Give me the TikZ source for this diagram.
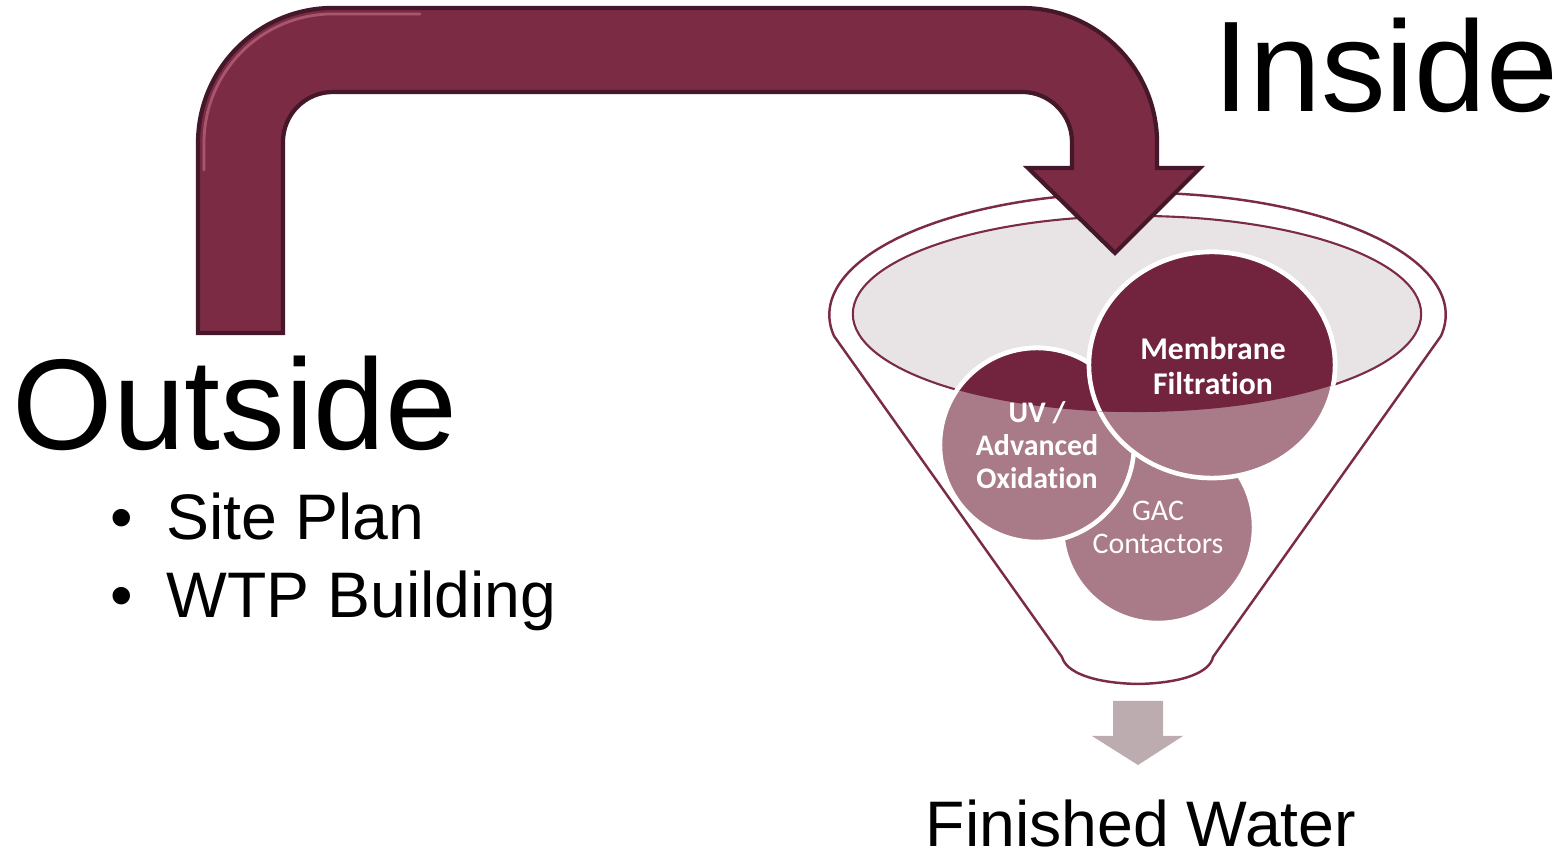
\documentclass[tikz,border=0pt]{standalone}
\usepackage{fontspec}
\setmainfont{Liberation Sans}
\newfontfamily\calibri[Ligatures=NoCommon]{Carlito}
\usepackage{tikz}
\usetikzlibrary{positioning}

\definecolor{arrowred}{HTML}{7B2C44}
\definecolor{arrowedge}{HTML}{45172A}
\definecolor{arrowshine}{HTML}{A8566E}
\definecolor{discdark}{HTML}{72243E}
\definecolor{discpink}{HTML}{A97A88}
\definecolor{cupgrey}{HTML}{E8E4E6}
\definecolor{outgrey}{HTML}{BCACAF}

\begin{document}
\begin{tikzpicture}[
	x=0.01cm, y=-0.01cm,
	bigword/.style = {
		inner sep=0, anchor=base west,
		font=\fontsize{36.7}{40}\selectfont
	},
	listword/.style = {
		inner sep=0, anchor=base west,
		font=\fontsize{18.3}{22}\selectfont
	},
	disc/.style = {
		fill=discpink, draw=white,
		line width=1.3pt
	},
	stagelabel/.style = {
		align=center, text=white, inner sep=0,
		font=\calibri\fontsize{8.5}{9.4}\selectfont
	}
]
	\useasboundingbox (0,0) rectangle (1565,855);
	% Funnel
	\draw[arrowred, line width=0.7pt] (1213,657) -- (1441,336)
		arc[start angle=-10, end angle=190, x radius=30.8mm, y radius=12.2mm]
		-- (1062,657) .. controls (1066,672) and (1092,683) .. (1138,684)
		.. controls (1184,683) and (1210,672) .. (1213,657);
	\draw[arrowred, fill=cupgrey, line width=0.6pt] (1137,314)
		ellipse [x radius=28.4mm, y radius=9.8mm];
	% Treatment stages
	\foreach \cx/\cy/\rx/\ry in {1158/527/9.6/9.6, 1037/445/9.7/9.7, 1212/365/12.3/11.3} {
		\draw[disc] (\cx,\cy) ellipse [x radius=\rx mm, y radius=\ry mm];
	}
	\begin{scope}
		\clip (1137,314) ellipse [x radius=28.4mm, y radius=9.8mm];
		\foreach \cx/\cy/\rx/\ry in {1158/527/9.6/9.6, 1037/445/9.7/9.7, 1212/365/12.3/11.3} {
			\draw[disc, fill=discdark] (\cx,\cy) ellipse [x radius=\rx mm, y radius=\ry mm];
		}
	\end{scope}
	\node[stagelabel] (gac) at (1158,527) {GAC\\Contactors};
	\node[stagelabel, font=\calibri\bfseries\fontsize{8.5}{9.4}\selectfont] (uv) at (1037,445)
		{UV /\\Advanced\\Oxidation};
	\node[stagelabel, font=\calibri\bfseries\fontsize{9}{10}\selectfont] (membrane) at (1213,366)
		{Membrane\\Filtration};
	% Outside to inside arrow
	\draw[fill=arrowred, draw=arrowedge, line width=1.2pt] (198,333) -- (198,143)
		arc[start angle=180, end angle=90, radius=13.5mm] -- (1022,8)
		arc[start angle=90, end angle=0, radius=13.5mm] -- (1157,168)
		-- (1200,168) -- (1115,253) -- (1028,168) -- (1072,168) -- (1072,142)
		arc[start angle=0, end angle=90, radius=5mm] -- (333,92)
		arc[start angle=90, end angle=180, radius=5mm] -- (283,333) -- cycle;
	\draw[arrowshine, line width=0.8pt, line cap=round] (204,170) -- (204,143)
		arc[start angle=180, end angle=90, radius=12.9mm] -- (420,14);
	% Output arrow
	\fill[outgrey] (1113,701) -- (1163,701) -- (1163,736) -- (1183,736)
		-- (1138,765) -- (1092,736) -- (1113,736) -- cycle;
	% Labels
	\node[bigword] (outside) at (12,450) {Outside};
	\node[bigword] (inside) at (1213,112) {Inside};
	\foreach \name/\y/\txt in {site/540/Site Plan, wtp/618/WTP Building} {
		\node[listword] (\name dot) at (110,\y) {\textbullet};
		\node[listword] (\name) at (166,\y) {\txt};
	}
	\node[listword, text depth=0pt] (finished) at (925,847) {Finished Water};
\end{tikzpicture}
\end{document}
